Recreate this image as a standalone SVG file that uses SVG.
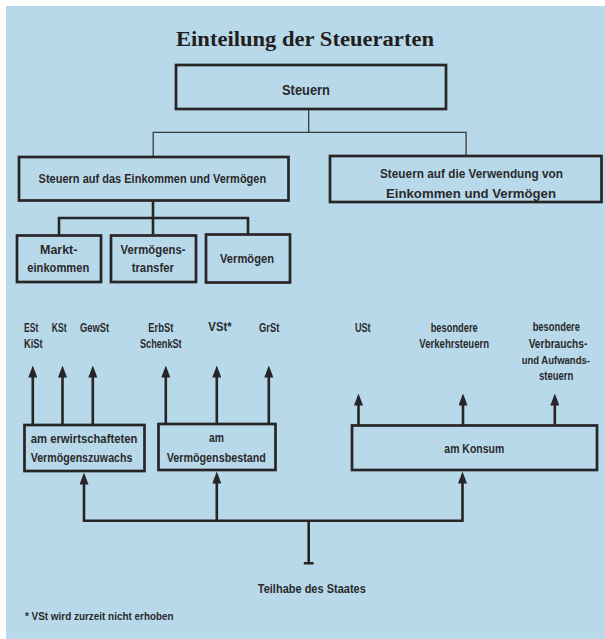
<svg xmlns="http://www.w3.org/2000/svg" width="605" height="639" viewBox="0 0 605 639">
<style>
.t{font-family:'Liberation Sans Narrow','Liberation Sans',Arial,sans-serif;font-weight:bold;font-size:13.5px;fill:#2b2a2b;text-anchor:middle}
.s{text-anchor:start}
.box{fill:none;stroke:#272526;stroke-width:2.7}
.thin{fill:none;stroke:#3a3a3a;stroke-width:1.3}
.thick{fill:none;stroke:#272526;stroke-width:2.6}
.arr{fill:none;stroke:#272526;stroke-width:2.6;marker-end:url(#ah)}
</style>
<defs>
<marker id="ah" viewBox="0 0 12 9" markerWidth="12" markerHeight="9" markerUnits="userSpaceOnUse" refX="0.5" refY="4.5" orient="auto">
<path d="M0,0 L12,4.5 L0,9 z" fill="#272526"/>
</marker>
</defs>
<rect x="0" y="0" width="605" height="639" fill="#ffffff"/>
<rect x="6" y="6" width="599" height="633" fill="#b8d9ea"/>
<text x="305" y="46" style="font-family:'Liberation Serif',serif;font-weight:bold;font-size:20px;fill:#231f20;text-anchor:middle" textLength="258" lengthAdjust="spacingAndGlyphs">Einteilung der Steuerarten</text>
<g id="connectors">
<path class="thin" d="M308.7,110 V132.3 M153.2,156 V132.3 H466.1 V155.5"/>
<path class="thick" d="M153,201 V234 M59,235 V218 H248 V234"/>
<path class="arr" d="M32.8,424 V377"/>
<path class="arr" d="M62.5,424 V377"/>
<path class="arr" d="M92.8,424 V377"/>
<path class="arr" d="M165.8,423 V377"/>
<path class="arr" d="M216.8,423 V377"/>
<path class="arr" d="M268.8,423 V377"/>
<path class="arr" d="M358.5,425 V405"/>
<path class="arr" d="M463,425 V405"/>
<path class="arr" d="M554.8,425 V405"/>
<path class="thick" d="M84,484 V520.7 H462.5 V483 M216.8,520.7 V483 M308.7,520.7 V563.3 M303.8,563.3 H313.6"/>
<path class="arr" d="M84,484.5 V484"/>
<path class="arr" d="M216.8,483.5 V483"/>
<path class="arr" d="M462.5,483.5 V483"/>
</g>
<g id="steuern"><rect class="box" x="176" y="65" width="270" height="44"/><text class="t" x="306" y="94.5" style="font-size:15px" textLength="48" lengthAdjust="spacingAndGlyphs">Steuern</text></g>
<g id="einkommen-vermoegen"><rect class="box" x="19" y="157" width="269.5" height="43.5"/><text class="t" x="152.4" y="183" textLength="227.6" lengthAdjust="spacingAndGlyphs">Steuern auf das Einkommen und Vermögen</text></g>
<g id="verwendung"><rect class="box" x="330" y="156" width="271.5" height="46"/><text class="t" x="471.5" y="177.7" textLength="183" lengthAdjust="spacingAndGlyphs">Steuern auf die Verwendung von</text><text class="t" x="471" y="197.5" textLength="170" lengthAdjust="spacingAndGlyphs">Einkommen und Vermögen</text></g>
<g id="markteinkommen"><rect class="box" x="17" y="235.5" width="84" height="46.5"/><text class="t" x="58.7" y="254" textLength="37.3" lengthAdjust="spacingAndGlyphs">Markt-</text><text class="t" x="58.3" y="272.3" textLength="62" lengthAdjust="spacingAndGlyphs">einkommen</text></g>
<g id="vermoegenstransfer"><rect class="box" x="111" y="235.5" width="85" height="46.5"/><text class="t" x="153" y="253.5" textLength="65" lengthAdjust="spacingAndGlyphs">Vermögens-</text><text class="t" x="152.8" y="272.3" textLength="42.3" lengthAdjust="spacingAndGlyphs">transfer</text></g>
<g id="vermoegen"><rect class="box" x="206" y="234.5" width="84" height="48"/><text class="t" x="247" y="263.3" textLength="54" lengthAdjust="spacingAndGlyphs">Vermögen</text></g>
<g id="labels">
<text class="t s" x="24" y="331.7" textLength="14.3" lengthAdjust="spacingAndGlyphs">ESt</text>
<text class="t s" x="24" y="348.3" textLength="18.7" lengthAdjust="spacingAndGlyphs">KiSt</text>
<text class="t" x="59.2" y="331.7" textLength="15" lengthAdjust="spacingAndGlyphs">KSt</text>
<text class="t" x="94.5" y="332" textLength="29" lengthAdjust="spacingAndGlyphs">GewSt</text>
<text class="t" x="160.8" y="331.7" textLength="25" lengthAdjust="spacingAndGlyphs">ErbSt</text>
<text class="t" x="160.8" y="348.3" textLength="41.7" lengthAdjust="spacingAndGlyphs">SchenkSt</text>
<text class="t" x="220" y="331.3" textLength="23.3" lengthAdjust="spacingAndGlyphs">VSt*</text>
<text class="t" x="269.2" y="331.7" textLength="20.3" lengthAdjust="spacingAndGlyphs">GrSt</text>
<text class="t" x="362.8" y="331.7" textLength="15.7" lengthAdjust="spacingAndGlyphs">USt</text>
<text class="t" x="454.2" y="331.7" textLength="47" lengthAdjust="spacingAndGlyphs">besondere</text>
<text class="t" x="454.2" y="348.3" textLength="69.7" lengthAdjust="spacingAndGlyphs">Verkehrsteuern</text>
<text class="t" x="556.3" y="330.7" textLength="47.3" lengthAdjust="spacingAndGlyphs">besondere</text>
<text class="t" x="558" y="347.5" style="font-size:12.5px" textLength="58.7" lengthAdjust="spacingAndGlyphs">Verbrauchs-</text>
<text class="t" x="555.8" y="363.7" style="font-size:11.5px" textLength="68.3" lengthAdjust="spacingAndGlyphs">und Aufwands-</text>
<text class="t" x="556.2" y="379.7" textLength="34.3" lengthAdjust="spacingAndGlyphs">steuern</text>
</g>
<g id="vermoegenszuwachs"><rect class="box" x="24.5" y="425" width="120" height="46"/><text class="t s" x="30.7" y="443.3" textLength="106.7" lengthAdjust="spacingAndGlyphs">am erwirtschafteten</text><text class="t s" x="30.7" y="461.7" textLength="101.7" lengthAdjust="spacingAndGlyphs">Vermögenszuwachs</text></g>
<g id="vermoegensbestand"><rect class="box" x="158.5" y="424" width="117" height="46"/><text class="t" x="216.5" y="442.3" textLength="15" lengthAdjust="spacingAndGlyphs">am</text><text class="t" x="216.3" y="461.7" textLength="99.3" lengthAdjust="spacingAndGlyphs">Vermögensbestand</text></g>
<g id="konsum"><rect class="box" x="352" y="425.5" width="245" height="44.5"/><text class="t" x="474.3" y="453.3" textLength="60" lengthAdjust="spacingAndGlyphs">am Konsum</text></g>
<g id="teilhabe"><text class="t" x="311.8" y="592.7" textLength="108" lengthAdjust="spacingAndGlyphs">Teilhabe des Staates</text></g>
<text class="t s" x="25" y="620" style="font-size:11.5px" textLength="148.6" lengthAdjust="spacingAndGlyphs">* VSt wird zurzeit nicht erhoben</text>
</svg>
